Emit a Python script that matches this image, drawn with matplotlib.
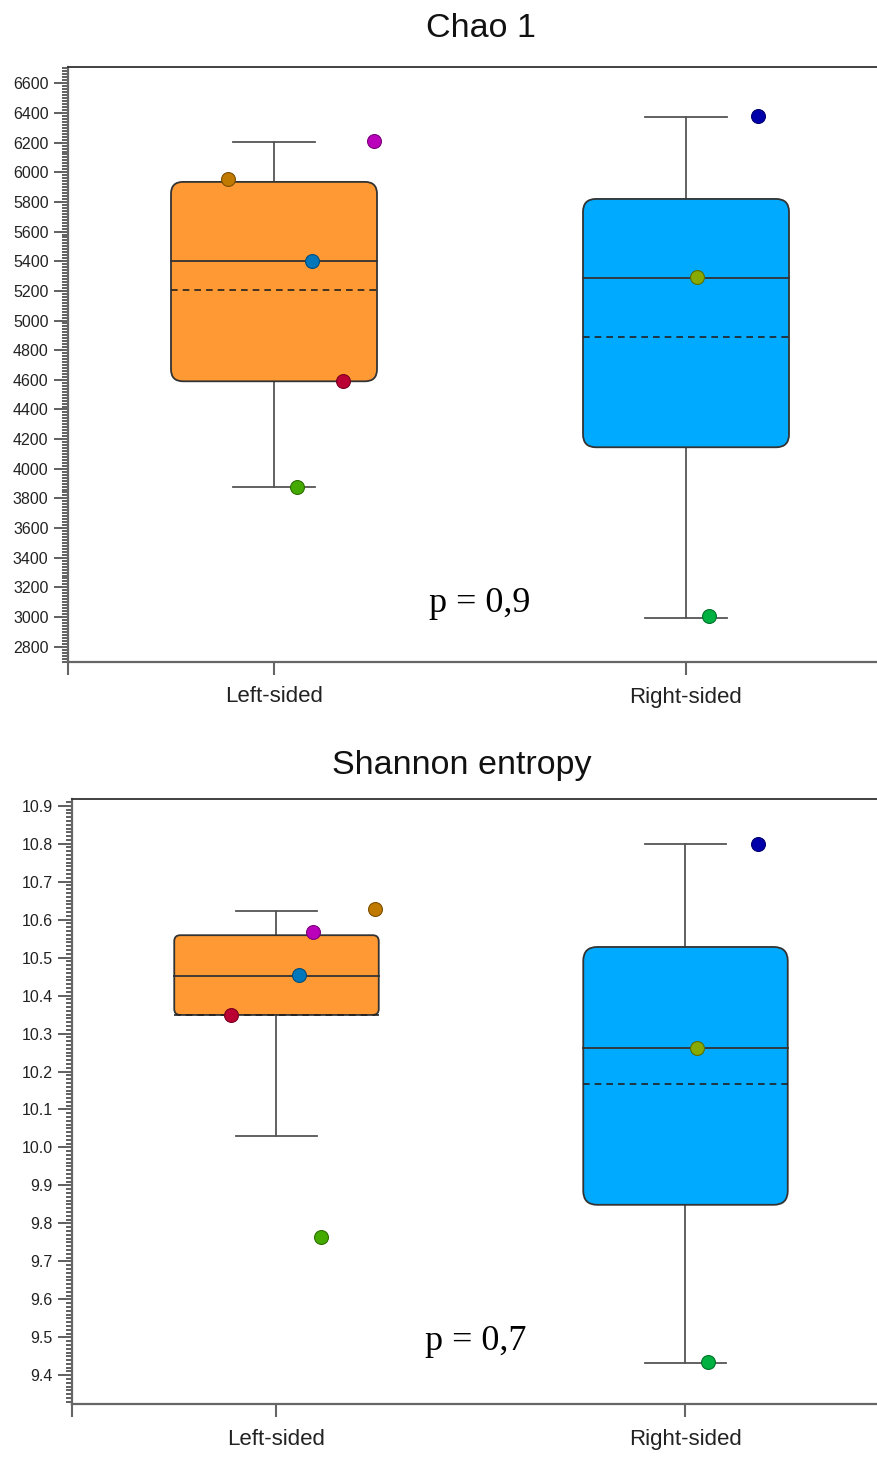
#!/usr/bin/env python3
"""
Alpha diversity box plots (Chao 1 and Shannon entropy), left- vs right-sided.
"""

import matplotlib
matplotlib.use("Agg")
import matplotlib.pyplot as plt
from matplotlib.patches import FancyBboxPatch
from matplotlib.ticker import MultipleLocator, FormatStrFormatter

W, H, DPI = 878, 1457, 100

groups = ["Left-sided", "Right-sided"]
box_colors = ["#ff9933", "#00aaff"]

# -------------------------------------------------------------
# Chao 1 values
# -------------------------------------------------------------
chao_q1 = [4590, 4145]
chao_median = [5400, 5287]
chao_q3 = [5935, 5820]
chao_mean = [5205, 4890]
chao_whisk_lo = [3875, 2995]
chao_whisk_hi = [6203, 6372]
chao_left_pts = [5954, 5401, 4593, 3878, 6210]
chao_left_jit = [-0.112, 0.092, 0.167, 0.056, 0.243]
chao_right_pts = [6380, 5295, 3005]
chao_right_jit = [0.175, 0.027, 0.056]
chao_p = "p = 0,9"

# -------------------------------------------------------------
# Shannon entropy values
# -------------------------------------------------------------
shan_q1 = [10.349, 9.849]
shan_median = [10.452, 10.262]
shan_q3 = [10.559, 10.528]
shan_mean = [10.350, 10.167]
shan_whisk_lo = [10.030, 9.432]
shan_whisk_hi = [10.623, 10.799]
shan_left_pts = [10.628, 10.568, 10.454, 10.349, 9.764]
shan_left_jit = [0.24, 0.09, 0.056, -0.112, 0.108]
shan_right_pts = [10.80, 10.262, 9.435]
shan_right_jit = [0.178, 0.027, 0.056]
shan_p = "p = 0,7"

# point colours per sample
chao_left_cols = ["#c07a00", "#0077bb", "#bb0033", "#44aa00", "#bb00bb"]
chao_right_cols = ["#0000aa", "#88aa00", "#00b040"]
shan_left_cols = ["#c07a00", "#bb00bb", "#0077bb", "#bb0033", "#44aa00"]
shan_right_cols = ["#0000aa", "#88aa00", "#00b040"]

plt.rcParams["font.family"] = ["Liberation Sans", "DejaVu Sans"]

fig = plt.figure(figsize=(W / DPI, H / DPI), dpi=DPI)


def darker(c, f=0.65):
    r, g, b = matplotlib.colors.to_rgb(c)
    return (r * f, g * f, b * f)


def draw_panel(rect, ylim, q1, med, q3, mean, wlo, whi, pts, jits, cols,
               radii, major, minor, fmt, ptext, pxy):
    ax = fig.add_axes(rect)
    ax.set_xlim(0.5, 2.5)
    ax.set_ylim(*ylim)
    ax_w = rect[2] * W
    ax_h = rect[3] * H
    ppx = ax_w / 2.0
    ppy = ax_h / (ylim[1] - ylim[0])
    for i in range(2):
        xc = i + 1
        r = radii[i] / ppx
        box = FancyBboxPatch((xc - 0.25, q1[i]), 0.5, q3[i] - q1[i],
                             boxstyle="round,pad=0,rounding_size=%g" % r,
                             mutation_aspect=ppx / ppy,
                             facecolor=box_colors[i], edgecolor="#333333",
                             linewidth=1.3, zorder=2)
        ax.add_patch(box)
        ax.plot([xc - 0.25, xc + 0.25], [med[i], med[i]], color="#333333",
                lw=1.3, zorder=3)
        ax.plot([xc - 0.25, xc + 0.25], [mean[i], mean[i]], color="#222222",
                lw=1.2, ls=(0, (4, 3)), zorder=3)
        ax.plot([xc, xc], [q3[i], whi[i]], color="#555555", lw=1.3, zorder=1)
        ax.plot([xc, xc], [wlo[i], q1[i]], color="#555555", lw=1.3, zorder=1)
        for w in (wlo[i], whi[i]):
            ax.plot([xc - 0.1, xc + 0.1], [w, w], color="#555555", lw=1.3,
                    zorder=1)
        for v, j, c in zip(pts[i], jits[i], cols[i]):
            ax.plot(xc + j, v, "o", ms=10, mfc=c, mec=darker(c), mew=0.8,
                    zorder=5, clip_on=False)

    ax.text(pxy[0], pxy[1], ptext, ha="center", va="baseline",
            family=["Liberation Serif", "DejaVu Serif"], fontsize=26)

    ax.set_xticks([0.5, 1, 2])
    ax.set_xticklabels(["", groups[0], groups[1]], fontsize=16, color="#222222")
    ax.tick_params(axis="x", direction="out", length=9, width=1.5,
                   color="#666666", pad=9)
    ax.yaxis.set_major_locator(MultipleLocator(major))
    ax.yaxis.set_minor_locator(MultipleLocator(minor))
    ax.yaxis.set_major_formatter(FormatStrFormatter(fmt))
    ax.tick_params(axis="y", which="major", direction="out", length=10,
                   width=1.2, color="#444444", labelsize=11.5,
                   labelcolor="#222222", pad=4)
    ax.tick_params(axis="y", which="minor", direction="out", length=4.5,
                   width=1.2, color="#444444")
    for s in ["left", "bottom"]:
        ax.spines[s].set_color("#666666")
        ax.spines[s].set_linewidth(1.6)
    ax.spines["top"].set_color("#333333")
    ax.spines["top"].set_linewidth(1.3)
    ax.spines["right"].set_visible(False)
    return ax


# top panel: Chao 1
top_rect = [68 / W, 1 - 661.5 / H, 824 / W, (661.5 - 66.7) / H]
draw_panel(top_rect, (2700, 6712),
           chao_q1, chao_median, chao_q3, chao_mean, chao_whisk_lo, chao_whisk_hi,
           [chao_left_pts, chao_right_pts], [chao_left_jit, chao_right_jit],
           [chao_left_cols, chao_right_cols], [12, 13],
           200, 20, "%d", chao_p, (1.5, 3034))
fig.text(481 / W, 1 - 36.7 / H, "Chao 1", ha="center", va="baseline",
         fontsize=24.5, color="#111111")

# bottom panel: Shannon entropy
bot_rect = [72 / W, 1 - 1404 / H, 818 / W, (1404 - 799) / H]
draw_panel(bot_rect, (9.3244, 10.9177),
           shan_q1, shan_median, shan_q3, shan_mean, shan_whisk_lo, shan_whisk_hi,
           [shan_left_pts, shan_right_pts], [shan_left_jit, shan_right_jit],
           [shan_left_cols, shan_right_cols], [6, 14],
           0.1, 0.01, "%.1f", shan_p, (1.488, 9.467))
fig.text(462 / W, 1 - 774 / H, "Shannon entropy", ha="center", va="baseline",
         fontsize=24.5, color="#111111")

fig.savefig("out.png", dpi=DPI)
